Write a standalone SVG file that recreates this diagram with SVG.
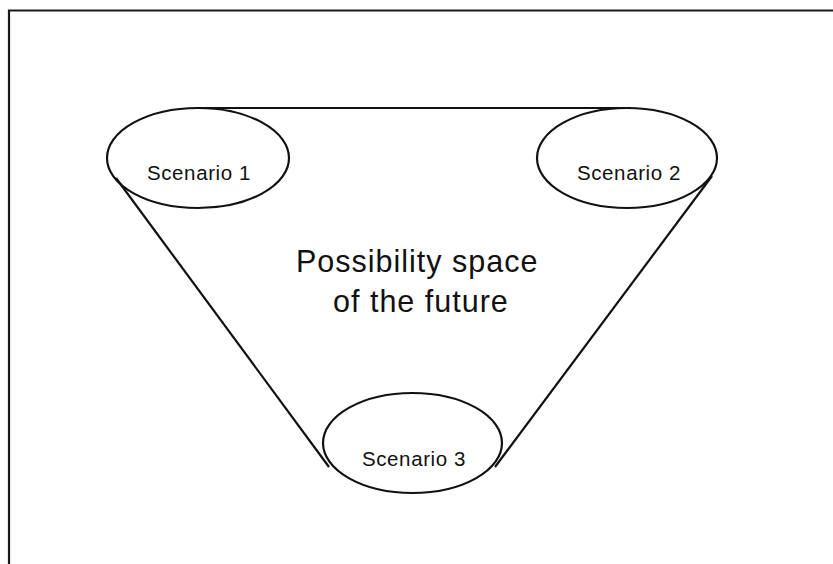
<svg xmlns="http://www.w3.org/2000/svg" width="833" height="564" viewBox="0 0 833 564">
<style>
.frame{fill:none;stroke:#1a1a1a;stroke-width:2.2}
.conn{fill:none;stroke:#111;stroke-width:2.2}
.node{fill:none;stroke:#111;stroke-width:2.2}
.lbl{font-family:"Liberation Sans",Arial,sans-serif;font-size:20.5px;letter-spacing:0.6px;fill:#111}
.big{font-family:"Liberation Sans",Arial,sans-serif;font-size:30.5px;letter-spacing:1px;fill:#111}
</style>
<rect width="833" height="564" fill="#fff"/>
<path class="frame" d="M9,564 V10.5 H833"/>
<g id="connectors">
<line class="conn" x1="196" y1="108" x2="631" y2="108"/>
<line class="conn" x1="116" y1="178" x2="329" y2="467"/>
<line class="conn" x1="712" y1="176" x2="495" y2="467"/>
</g>
<g id="scenario1">
<ellipse class="node" cx="198" cy="158" rx="91" ry="50"/>
<text class="lbl" x="147" y="180">Scenario 1</text>
</g>
<g id="scenario2">
<ellipse class="node" cx="627" cy="158" rx="90" ry="50"/>
<text class="lbl" x="577" y="180">Scenario 2</text>
</g>
<g id="scenario3">
<ellipse class="node" cx="412.5" cy="443" rx="89.5" ry="50"/>
<text class="lbl" x="362" y="466">Scenario 3</text>
</g>
<g id="possibility-space">
<text class="big" x="296" y="272">Possibility space</text>
<text class="big" x="333" y="312">of the future</text>
</g>
</svg>
